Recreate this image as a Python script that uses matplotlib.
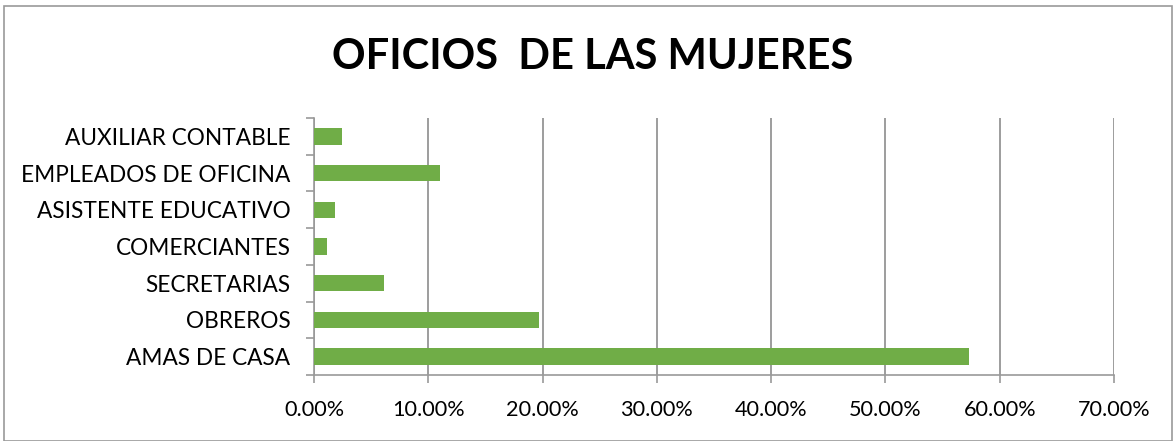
import matplotlib.pyplot as plt
from matplotlib.patches import Rectangle
from matplotlib.ticker import FuncFormatter, FixedLocator

oficios = ['AMAS DE CASA', 'OBREROS', 'SECRETARIAS', 'COMERCIANTES',
           'ASISTENTE EDUCATIVO', 'EMPLEADOS DE OFICINA', 'AUXILIAR CONTABLE']
porcentajes = [57.35, 19.72, 6.14, 1.10, 1.80, 11.05, 2.42]
xticks = [0, 10, 20, 30, 40, 50, 60, 70]

plt.rcParams['font.family'] = ['Lato', 'DejaVu Sans']

fig = plt.figure(figsize=(11.76, 4.41), dpi=100)
fig.patches.append(Rectangle((4/1176, 0), 1 - 8/1176, 1 - 6/441, transform=fig.transFigure,
                             fill=False, edgecolor='#9a9a9a', linewidth=1.2))
ax = fig.add_axes([314/1176, 1 - 375/441, 800/1176, (375 - 118)/441])

y = range(len(oficios))
ax.barh(y, porcentajes, height=0.45, color='#70ad47', zorder=3)
ax.set_ylim(-0.5, len(oficios) - 0.5)
ax.set_xlim(0, 70)
ax.set_yticks(list(y))
ax.set_yticklabels(oficios, fontsize=16.3)
ax.yaxis.set_minor_locator(FixedLocator([i - 0.5 for i in range(len(oficios) + 1)]))
ax.tick_params(axis='y', which='major', length=0, pad=17)
ax.tick_params(axis='y', which='minor', length=6, color='#9a9a9a', width=1.2)
ax.set_xticks(xticks)
ax.xaxis.set_major_formatter(FuncFormatter(lambda v, p: '%.2f%%' % v))
ax.tick_params(axis='x', length=6, color='#9a9a9a', width=1.2, labelsize=15.6, pad=12)
ax.grid(axis='x', color='#8c8c8c', linewidth=1.2, zorder=0)
for s in ['top', 'right']:
    ax.spines[s].set_visible(False)
for s in ['left', 'bottom']:
    ax.spines[s].set_color('#9a9a9a')
    ax.spines[s].set_linewidth(1.2)

fig.text(593/1176, 1 - 57/441, 'OFICIOS  DE LAS MUJERES', ha='center', va='center',
         fontsize=30, fontweight='bold')

fig.savefig('out.png', dpi=100)
